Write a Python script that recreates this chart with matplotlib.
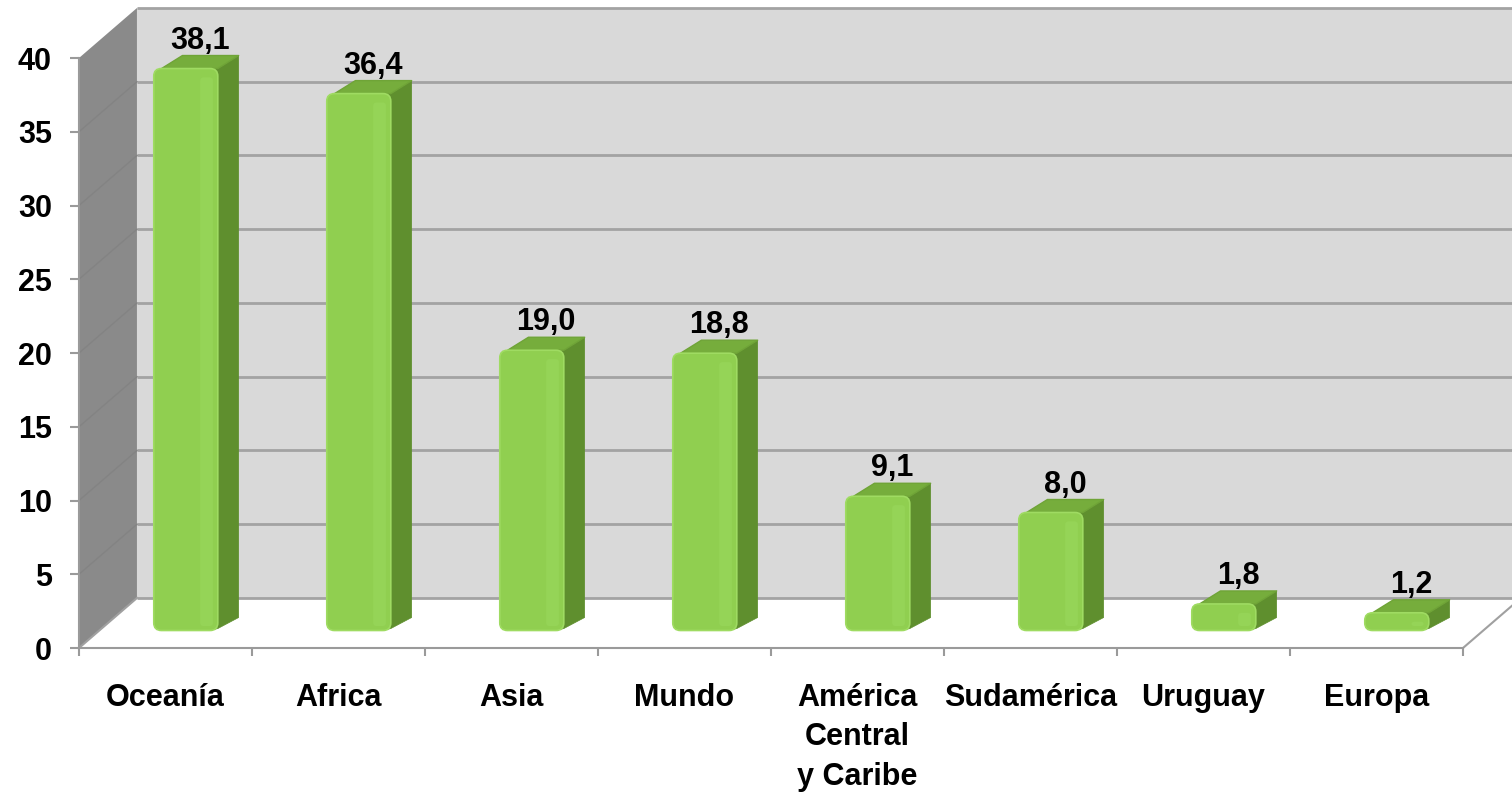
import matplotlib.pyplot as plt
from matplotlib.patches import Polygon, FancyBboxPatch

plt.rcParams['font.family'] = ['Liberation Sans', 'DejaVu Sans']

# data
categories = ['Oceanía', 'Africa', 'Asia', 'Mundo', 'América\nCentral\ny Caribe',
              'Sudamérica', 'Uruguay', 'Europa']
values = [38.1, 36.4, 19.0, 18.8, 9.1, 8.0, 1.8, 1.2]
value_labels = ['38,1', '36,4', '19,0', '18,8', '9,1', '8,0', '1,8', '1,2']
y_ticks = [0, 5, 10, 15, 20, 25, 30, 35, 40]

# fake 3D depth, in data units (x: categories, y: values)
DX = 0.335
DY = 3.39
n = len(categories)


def P(x, y, d):
    return (x + d * DX, y + d * DY)


fig = plt.figure(figsize=(15.12, 7.92), dpi=100)
ax = fig.add_axes([79 / 1512, (792 - 648) / 792, 1384 / 1512, 590 / 792])
ax.set_xlim(-0.5, n - 0.5)
ax.set_ylim(0, 40)
ax.patch.set_visible(False)

x0, x1 = -0.5, n - 0.5
ytop = y_ticks[-1]

# back wall
ax.add_patch(Polygon([P(x0, 0, 1), P(x1 + 0.5, 0, 1), P(x1 + 0.5, ytop, 1), P(x0, ytop, 1)],
                     closed=True, facecolor='#d9d9d9', edgecolor='none', zorder=1, clip_on=False))
# left wall
ax.add_patch(Polygon([P(x0, 0, 0), P(x0, 0, 1), P(x0, ytop, 1), P(x0, ytop, 0)],
                     closed=True, facecolor='#8a8a8a', edgecolor='none', zorder=1, clip_on=False))

# gridlines on back wall and left wall
for v in y_ticks:
    bx = [P(x0, v, 1)[0], P(x1 + 0.5, v, 1)[0]]
    by = [P(x0, v, 1)[1]] * 2
    ax.plot(bx, by, color='#a3a3a3', lw=2, zorder=2, clip_on=False, solid_capstyle='butt')
    if 0 < v < ytop:
        a, b = P(x0, v, 0), P(x0, v, 1)
        ax.plot([a[0], b[0]], [a[1], b[1]], color='#838383', lw=1, zorder=2, clip_on=False)

# floor edges
for xe in [x0, x1]:
    a, b = P(xe, 0, 0), P(xe, 0, 1)
    ax.plot([a[0], b[0]], [a[1], b[1]], color='#a0a0a0', lw=1.5, zorder=2, clip_on=False)

# bars
hw = 0.185
d1 = 0.35
bdx = 0.36 * DX     # bar depth, x direction
bdy = 0.26 * DY     # bar depth, y direction
rx = 0.045          # corner rounding in x units
asp = 11.5          # y/x data-unit ratio for round corners
for i, v in enumerate(values):
    fl, fb = P(i - hw, 0, d1)
    fr = fl + 2 * hw
    side = [(fr - rx, fb), (fr, fb + 0.15 * bdy), (fr + bdx, fb + bdy),
            (fr + bdx, fb + v + bdy), (fr, fb + v), (fr - rx, fb + v)]
    top = [(fl + rx, fb + v), (fr, fb + v), (fr + bdx, fb + v + bdy),
           (fl + rx + bdx, fb + v + bdy)]
    ax.add_patch(Polygon(side, closed=True, facecolor='#5f8f2e', edgecolor='#5f8f2e',
                         lw=0.5, zorder=3, clip_on=False))
    ax.add_patch(Polygon(top, closed=True, facecolor='#76ad3c', edgecolor='#6fa437',
                         lw=1, joinstyle='round', zorder=3, clip_on=False))
    ax.add_patch(FancyBboxPatch((fl, fb), 2 * hw, v,
                                boxstyle=f'round,pad=0,rounding_size={rx}',
                                mutation_aspect=asp, facecolor='#90cf50',
                                edgecolor='#9fdb62', lw=1.2, zorder=4, clip_on=False))
    # soft highlight near right edge of front face
    ax.add_patch(FancyBboxPatch((fl + hw * 1.45, fb + 0.3), hw * 0.4, max(v - 0.9, 0.1),
                                boxstyle='round,pad=0,rounding_size=0.02',
                                mutation_aspect=asp, facecolor='#95d457',
                                edgecolor='none', zorder=4, clip_on=False))
    ax.annotate(value_labels[i], (i + 0.2, fb + v + bdy), xytext=(0, 5),
                textcoords='offset points', ha='center', va='baseline',
                fontsize=22, fontweight='bold', zorder=6, annotation_clip=False)

# axes styling
for s in ['top', 'right']:
    ax.spines[s].set_visible(False)
for s in ['left', 'bottom']:
    ax.spines[s].set_color('#9a9a9a')
    ax.spines[s].set_linewidth(1.5)
    ax.spines[s].set_zorder(5)

ax.set_yticks(y_ticks)
ax.set_yticklabels([str(t) for t in y_ticks], fontsize=22, fontweight='bold')
ax.tick_params(axis='y', length=6.5, width=1.5, color='#9a9a9a', pad=13)

ax.set_xticks(range(n))
ax.set_xticklabels(categories, fontsize=22, fontweight='bold', linespacing=1.42)
ax.set_xticks([k - 0.5 for k in range(n + 1)], minor=True)
ax.tick_params(axis='x', which='major', length=0, pad=25)
ax.tick_params(axis='x', which='minor', length=6, width=1.5, color='#9a9a9a')

fig.savefig('out.png', dpi=100)
